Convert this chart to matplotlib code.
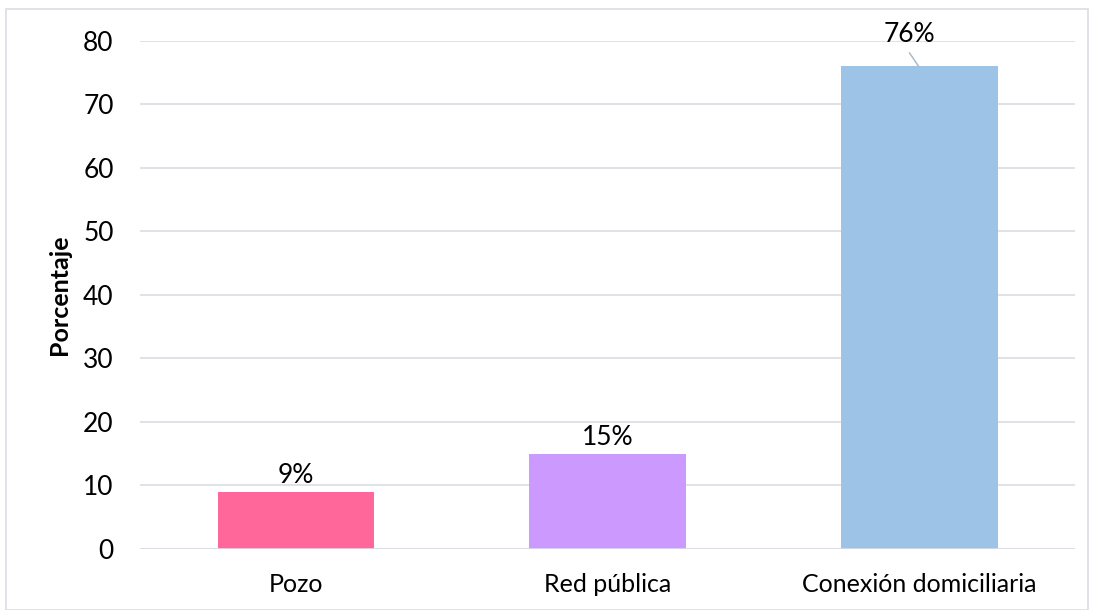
import matplotlib.pyplot as plt
import matplotlib.patches as patches

categories = ["Pozo", "Red pública", "Conexión domiciliaria"]
values = [9, 15, 76]
labels = ["9%", "15%", "76%"]
colors = ["#FF6699", "#CC99FF", "#9DC3E6"]
yticks = [0, 10, 20, 30, 40, 50, 60, 70, 80]

plt.rcParams['font.family'] = ['Lato', 'DejaVu Sans']

fig = plt.figure(figsize=(10.94, 6.10), dpi=100)
ax = fig.add_axes([0.128, 0.1, 0.855, 0.833])

x = range(len(categories))
ax.bar(x, values, width=0.503, color=colors, zorder=3)

ax.set_xlim(-0.5, 2.5)
ax.set_ylim(0, 80)
ax.set_yticks(yticks)
ax.set_xticks(list(x))
ax.set_xticklabels(categories, fontsize=18)
ax.tick_params(axis='y', labelsize=19, length=0, pad=19)
ax.tick_params(axis='x', length=0, pad=17)
ax.grid(axis='y', color='#D9DDE3', lw=1.2, zorder=0)
for s in ax.spines.values():
    s.set_visible(False)
ax.axhline(0, color='#D9DDE3', lw=1.2, zorder=4)

ax.set_ylabel("Porcentaje", fontsize=18, fontweight='bold', labelpad=9)

for i, (v, lab) in enumerate(zip(values, labels)):
    if i == 2:
        # label lifted above the bar with a short leader line
        ax.plot([i - 0.032, i - 0.003], [78.1, v], color='#A6B5C8', lw=1, zorder=4)
        ax.text(i - 0.033, 79.0, lab, ha='center', va='bottom', fontsize=19)
    else:
        ax.text(i, v + 0.6, lab, ha='center', va='bottom', fontsize=19)

fig.patches.append(patches.Rectangle((6 / 1094, 0), 1 - 12 / 1094, 1 - 9 / 610,
                                     transform=fig.transFigure, fill=False,
                                     edgecolor='#D9DDE3', lw=1.2))

fig.savefig("out.png", dpi=100)
